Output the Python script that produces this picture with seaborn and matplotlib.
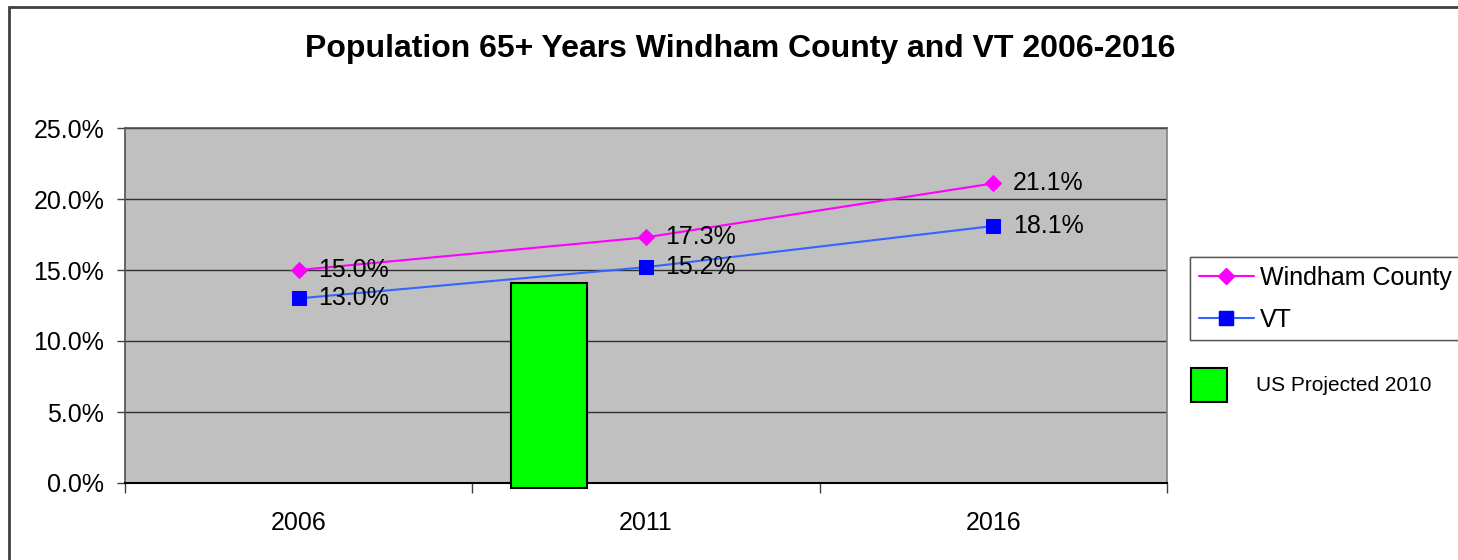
import numpy as np
import pandas as pd
import seaborn as sns
import matplotlib.pyplot as plt
from matplotlib.patches import Patch, Rectangle
from matplotlib.lines import Line2D
from matplotlib.ticker import PercentFormatter, FixedLocator

years = ["2006", "2011", "2016"]
windham = [15.0, 17.3, 21.1]
vt = [13.0, 15.2, 18.1]
us_label = "US Projected 2010"
us_value = 14.1
us_bottom = -0.35

sns.set_style("white")
plt.rcParams["font.family"] = ["Liberation Sans", "DejaVu Sans"]
plt.rcParams["text.color"] = "black"
plt.rcParams["xtick.color"] = "black"
plt.rcParams["ytick.color"] = "black"

pos = np.arange(len(years))
df = pd.DataFrame({"pos": np.concatenate([pos, pos]),
                   "value": windham + vt,
                   "series": ["Windham County"] * 3 + ["VT"] * 3})

fig = plt.figure(figsize=(14.58, 5.6), dpi=100)
ax = fig.add_axes([125 / 1458, 77 / 560, 1042 / 1458, 355 / 560])
ax.set_facecolor("#C0C0C0")

# outer chart border
fig.patches.append(Rectangle((9 / 1458, -0.2), 1.2, 1.2 - 7 / 560,
                             transform=fig.transFigure, fill=False,
                             edgecolor="#404040", lw=2.0, zorder=0))

# green bar (separate series, placed between 2006 and 2011)
ax.bar([0.72], [us_value - us_bottom], bottom=us_bottom, width=0.22,
       color="#00FF00", edgecolor="black", linewidth=1.5, clip_on=False, zorder=3)

sns.lineplot(data=df[df.series == "Windham County"], x="pos", y="value", ax=ax,
             color="#FF00FF", lw=1.5, marker="D", markersize=8.5,
             markeredgecolor="#FF00FF", zorder=4, legend=False)
sns.lineplot(data=df[df.series == "VT"], x="pos", y="value", ax=ax,
             color="#3366FF", lw=1.5, marker="s", markersize=10,
             markerfacecolor="#0000FF", markeredgecolor="#0000FF", zorder=4, legend=False)

for vals in (windham, vt):
    for p, v in zip(pos, vals):
        ax.annotate(f"{v:.1f}%", (p, v), xytext=(14, 0), textcoords="offset points",
                    va="center", ha="left", fontsize=18, zorder=5)

ax.set_xlim(-0.5, 2.5)
ax.set_ylim(0, 25)
ax.set_yticks([0, 5, 10, 15, 20, 25])
ax.yaxis.set_major_formatter(PercentFormatter(decimals=1))
ax.set_xticks(pos)
ax.set_xticklabels(years)
ax.xaxis.set_minor_locator(FixedLocator([-0.5, 0.5, 1.5, 2.5]))
ax.tick_params(axis="x", which="major", bottom=True, length=0, pad=20, labelsize=18)
ax.tick_params(axis="x", which="minor", bottom=True, length=7, width=1,
               color="#404040", direction="out")
ax.tick_params(axis="y", left=True, length=6, width=1, color="#404040",
               direction="out", pad=9, labelsize=18)
ax.set_xlabel("")
ax.set_ylabel("")
ax.yaxis.grid(True, color="#303030", lw=1.0)
ax.set_axisbelow(True)
for side in ["left", "top", "right"]:
    ax.spines[side].set_color("#505050")
    ax.spines[side].set_linewidth(1.2)
ax.spines["right"].set_color("#808080")
ax.spines["bottom"].set_color("black")
ax.spines["bottom"].set_linewidth(1.5)

fig.text(0.508, 0.912, "Population 65+ Years Windham County and VT 2006-2016",
         ha="center", va="center", fontsize=23, fontweight="bold")

handles = [Line2D([], [], color="#FF00FF", lw=1.5, marker="D", markersize=8.5),
           Line2D([], [], color="#3366FF", lw=1.5, marker="s", markersize=10,
                  markerfacecolor="#0000FF", markeredgecolor="#0000FF")]
leg1 = fig.legend(handles, ["Windham County", "VT"], loc="upper left",
                  bbox_to_anchor=(1190 / 1458, 1 - 257 / 560), fontsize=18,
                  frameon=True, fancybox=False, edgecolor="#404040",
                  handlelength=2.2, handletextpad=0.25, borderpad=0.35,
                  labelspacing=0.72, borderaxespad=0)
leg1.get_frame().set_linewidth(1.0)

leg2 = fig.legend([Patch(facecolor="#00FF00", edgecolor="black", lw=1.5)], [us_label],
                  loc="upper left", bbox_to_anchor=(1191 / 1458, 1 - 368 / 560),
                  fontsize=15, frameon=False, handlelength=1.75, handleheight=2.1,
                  handletextpad=1.35, borderpad=0, borderaxespad=0)
fig.add_artist(leg1)

fig.savefig("out.png", dpi=100)
